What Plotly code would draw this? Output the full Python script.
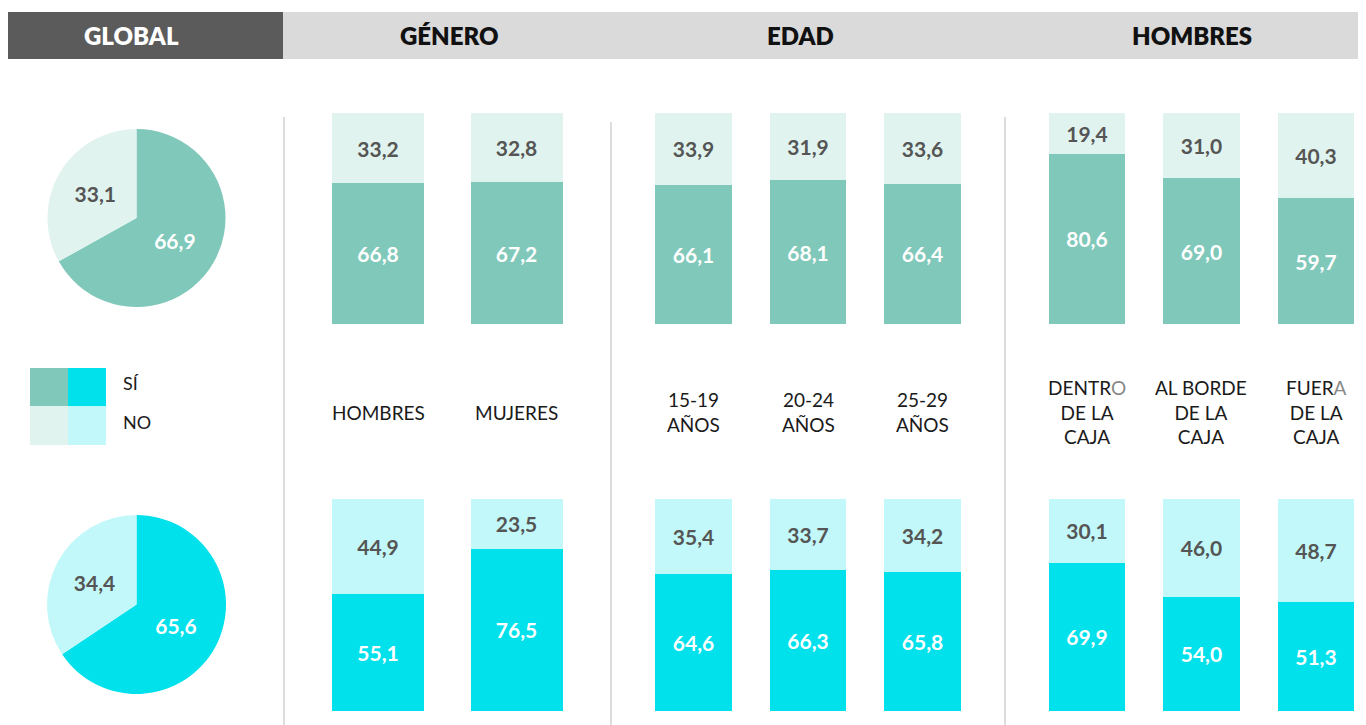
import plotly.graph_objects as go

# page body has an 8px margin, so the figure is drawn 8px in from the corner
OFF = 8
W, H = 1366 - OFF, 725 - OFF

# ---- data ----
pie_si = 66.9
pie_no = 33.1
pie2_si = 65.6
pie2_no = 34.4

genero_cats = ["HOMBRES", "MUJERES"]
genero_labels = ["HOMBRES", "MUJERES"]
genero_si_top = [66.8, 67.2]
genero_no_top = [33.2, 32.8]
genero_si_bot = [55.1, 76.5]
genero_no_bot = [44.9, 23.5]

edad_cats = ["15-19", "20-24", "25-29"]
edad_labels = ["15-19<br>AÑOS", "20-24<br>AÑOS", "25-29<br>AÑOS"]
edad_si_top = [66.1, 68.1, 66.4]
edad_no_top = [33.9, 31.9, 33.6]
edad_si_bot = [64.6, 66.3, 65.8]
edad_no_bot = [35.4, 33.7, 34.2]

caja_cats = ["DENTRO", "BORDE", "FUERA"]
caja_labels = ["DENTR<span style='color:#888'>O</span><br>DE LA<br>CAJA",
               "AL BORDE<br>DE LA<br>CAJA",
               "FUER<span style='color:#888'>A</span><br>DE LA<br>CAJA"]
caja_si_top = [80.6, 69.0, 59.7]
caja_no_top = [19.4, 31.0, 40.3]
caja_si_bot = [69.9, 54.0, 51.3]
caja_no_bot = [30.1, 46.0, 48.7]

headers = ["GLOBAL", "GÉNERO", "EDAD", "HOMBRES"]

TEAL = "#7fc8ba"
TEAL_L = "#e0f3ee"
CYAN = "#00e1ec"
CYAN_L = "#c2f8f9"
NUM_DARK = "#555555"
FONT = "Lato"


def px(x):
    return (x - OFF) / W


def py(y):
    return 1 - (y - OFF) / H


fig = go.Figure()

# pies
for vals, colors, y0, y1 in [
    ([pie_si, pie_no], [TEAL, TEAL_L], 307, 129),
    ([pie2_si, pie2_no], [CYAN, CYAN_L], 694, 515),
]:
    fig.add_trace(go.Pie(
        values=vals, labels=["SÍ", "NO"], sort=False, direction="clockwise",
        marker=dict(colors=colors, line=dict(width=0)),
        texttemplate="%{value:.1f}", textposition="inside",
        insidetextorientation="horizontal",
        textfont=dict(family=FONT, size=21, weight=700, color=["white", NUM_DARK]),
        domain=dict(x=[px(47), px(226)], y=[py(y0), py(y1)]),
        showlegend=False, hoverinfo="skip",
    ))

groups = [
    ("x", genero_cats, genero_si_top, genero_no_top, genero_si_bot, genero_no_bot, 0.664),
    ("x2", edad_cats, edad_si_top, edad_no_top, edad_si_bot, edad_no_bot, 0.672),
    ("x3", caja_cats, caja_si_top, caja_no_top, caja_si_bot, caja_no_bot, 0.664),
]

for xa, cats, si_t, no_t, si_b, no_b, bw in groups:
    for ya, si, no, c1, c2 in [("y", si_t, no_t, TEAL, TEAL_L), ("y2", si_b, no_b, CYAN, CYAN_L)]:
        fig.add_trace(go.Bar(
            x=cats, y=si, xaxis=xa, yaxis=ya, width=bw, marker=dict(color=c1, line=dict(width=0)),
            texttemplate="%{y:.1f}", textposition="inside", insidetextanchor="middle",
            textangle=0, constraintext="none",
            textfont=dict(family=FONT, size=21, weight=700, color="white"),
            showlegend=False, hoverinfo="skip",
        ))
        fig.add_trace(go.Bar(
            x=cats, y=no, xaxis=xa, yaxis=ya, width=bw, marker=dict(color=c2, line=dict(width=0)),
            texttemplate="%{y:.1f}", textposition="inside", insidetextanchor="middle",
            textangle=0, constraintext="none",
            textfont=dict(family=FONT, size=21, weight=700, color=NUM_DARK),
            showlegend=False, hoverinfo="skip",
        ))

ax_common = dict(showgrid=False, zeroline=False, showticklabels=False, ticks="",
                 showline=False, fixedrange=True)

fig.update_layout(
    width=W, height=H, margin=dict(l=0, r=0, t=0, b=0),
    paper_bgcolor="white", plot_bgcolor="rgba(0,0,0,0)",
    barmode="stack", separators=", ",
    font=dict(family=FONT, color="#1a1a1a"),
    xaxis=dict(domain=[px(284), px(611)], range=[-0.6787, 1.682], anchor="y", **ax_common),
    xaxis2=dict(domain=[px(611), px(1005)], range=[-0.7205, 2.7205], anchor="y", **ax_common),
    xaxis3=dict(domain=[px(1005), 1.0], range=[-0.716, 2.4367], anchor="y", **ax_common),
    yaxis=dict(domain=[py(324), py(113)], range=[0, 100], anchor="x", **ax_common),
    yaxis2=dict(domain=[py(711), py(499)], range=[0, 100], anchor="x", **ax_common),
)

shapes = [
    dict(type="rect", xref="paper", yref="paper", x0=px(8), x1=px(283), y0=py(59), y1=py(12),
         fillcolor="#5b5b5b", line=dict(width=0), layer="below"),
    dict(type="rect", xref="paper", yref="paper", x0=px(283), x1=px(1363), y0=py(59), y1=py(12),
         fillcolor="#dadada", line=dict(width=0), layer="below"),
]
for xline, ytop in [(284, 117), (611, 122), (1005, 117)]:
    shapes.append(dict(type="line", xref="paper", yref="paper", x0=px(xline), x1=px(xline),
                       y0=0, y1=py(ytop), line=dict(color="#dddddd", width=2), layer="below"))
# legend swatches
for x0, x1, y0, y1, c in [(30, 68, 368, 406, TEAL), (68, 106, 368, 406, CYAN),
                          (30, 68, 406, 445, TEAL_L), (68, 106, 406, 445, CYAN_L)]:
    shapes.append(dict(type="rect", xref="paper", yref="paper", x0=px(x0), x1=px(x1),
                       y0=py(y1), y1=py(y0), fillcolor=c, line=dict(width=0)))
fig.update_layout(shapes=shapes)

ann = []
for txt, xc in zip(headers, [131, 449, 800, 1192]):
    ann.append(dict(text=txt, x=px(xc), y=py(36), xref="paper", yref="paper",
                    showarrow=False, xanchor="center", yanchor="middle",
                    font=dict(family=FONT, size=24, weight=800,
                              color="white" if txt == "GLOBAL" else "#111111")))
for txt, yc in [("SÍ", 383), ("NO", 422)]:
    ann.append(dict(text=txt, x=px(121), y=py(yc), xref="paper", yref="paper",
                    showarrow=False, xanchor="left", yanchor="middle",
                    font=dict(family=FONT, size=18, color="#1a1a1a")))
for xa, cats, labels in [("x", genero_cats, genero_labels), ("x2", edad_cats, edad_labels),
                         ("x3", caja_cats, caja_labels)]:
    for c, lab in zip(cats, labels):
        ann.append(dict(text=lab, x=c, y=py(412), xref=xa, yref="paper",
                        showarrow=False, xanchor="center", yanchor="middle",
                        font=dict(family=FONT, size=19, color="#1a1a1a")))
fig.update_layout(annotations=ann)

fig.write_html("out.html")
